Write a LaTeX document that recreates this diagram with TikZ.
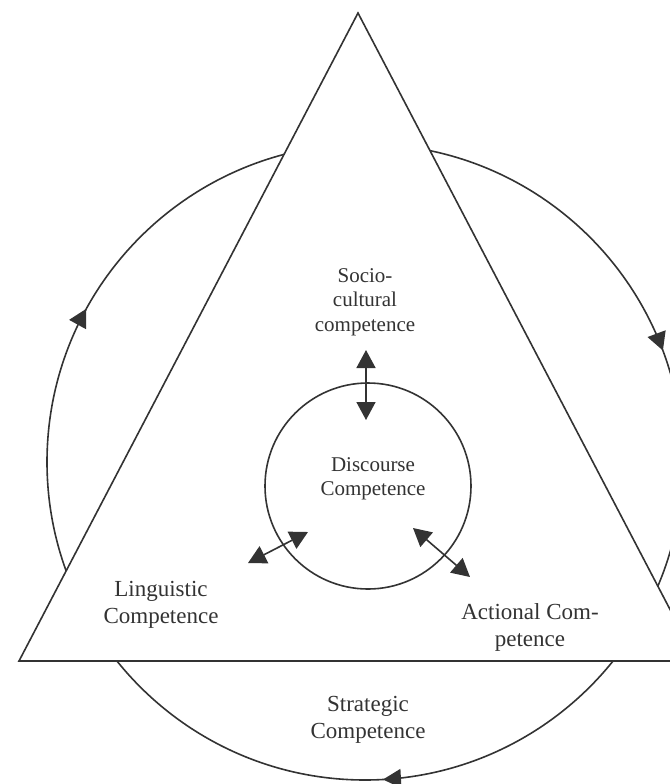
\documentclass[tikz,border=0pt]{standalone}
\usepackage{fontspec}
\setmainfont{Liberation Serif}
\usetikzlibrary{arrows.meta,decorations.markings}
\definecolor{ink}{HTML}{333333}

\begin{document}
\begin{tikzpicture}[x=.5pt,y=-.5pt,>={Triangle[length=9pt,width=9.5pt]},
 big/.style={align=center,text=ink,font=\fontsize{11.5}{13.5}\selectfont},
 small/.style={align=center,text=ink,font=\fontsize{10.5}{12.2}\selectfont},
 dbl/.style={<->,ink,line width=.8pt},
 cyc/.style={ink,line width=.8pt,postaction=decorate,decoration={markings,
  mark=at position .241 with {\arrow{>}},
  mark=at position .58 with {\arrow{>}},
  mark=at position .943 with {\arrow{>}}}}]
 \useasboundingbox(0,0)rectangle(670,784);
 \clip(0,0)rectangle(670,784);
 % outer cycle, hidden inside the triangle
 \draw[cyc](365,462)circle(318);
 \draw[ink,line width=.8pt,fill=white](358,13)--(697,661)--(19,661)--cycle;
 \draw[ink,line width=.8pt](368,486)circle(103);
 \node[small](soc)at(365,302){Socio-\\cultural\\competence};
 \node[small](dis)at(373,479){Discourse\\Competence};
 \node[big](lin)at(161,605){Linguistic\\Competence};
 \node[big](act)at(530,627){Actional Com-\\petence};
 \node[big](str)at(368,720){Strategic\\Competence};
 \coordinate(socEnd)at(366,350);
 \coordinate(disTop)at(366,420);
 \coordinate(linEnd)at(248,563);
 \coordinate(disLeft)at(308,532);
 \coordinate(disRight)at(413,528);
 \coordinate(actEnd)at(470,577);
 \draw[dbl](socEnd)--(disTop);
 \draw[dbl](linEnd)--(disLeft);
 \draw[dbl](disRight)--(actEnd);
\end{tikzpicture}
\end{document}
